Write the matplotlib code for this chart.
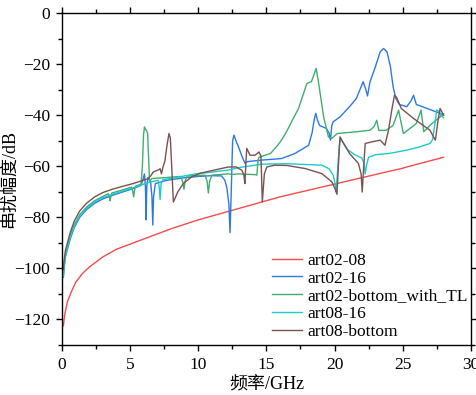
import matplotlib
matplotlib.use("Agg")
import matplotlib.pyplot as plt
from matplotlib.ticker import MultipleLocator

plt.rcParams['font.family'] = ['Liberation Serif', 'Noto Sans CJK SC']
plt.rcParams['axes.unicode_minus'] = True

# series (frequency in GHz, crosstalk in dB)
red_f = [0.1, 0.2, 0.4, 0.7, 1.0, 1.5, 2.0, 3.0, 4.0, 6.0, 8.0, 10.0, 12.0, 14.0,
         16.0, 18.0, 20.0, 22.0, 24.0, 25.0, 25.1, 26.0, 28.0]
red_db = [-122.5, -118, -113, -109, -105.5, -102, -99.5, -95.5, -92.5, -88.5, -84.5,
          -81, -78, -75, -72, -69.5, -67, -64.5, -62, -60.8, -60.6, -59.3, -56.5]

blue_f = [0.1, 0.15, 0.25, 0.4, 0.6, 0.9, 1.3, 1.8, 2.4, 3.0, 3.7, 4.5, 5.2, 5.8, 5.95,
          6.05, 6.12, 6.17, 6.22, 6.3, 6.5, 6.6, 6.66, 6.72, 6.85, 7.7, 9.0, 10.0, 11.0,
          11.7, 11.95, 12.1, 12.25, 12.33, 12.42, 12.52, 12.62, 12.8, 12.95, 13.2, 13.44,
          13.6, 14.66, 16.1, 17.1, 18.1, 18.35, 18.5, 18.62, 18.75, 18.9, 19.4, 19.6, 19.7,
          19.8, 19.9, 20.4, 21.1, 21.6, 22.1, 22.3, 22.42, 22.6, 23.0, 23.35, 23.6, 23.85,
          24.1, 24.3, 24.5, 24.75, 25.3, 25.6, 25.8, 26.0, 26.8, 27.75, 28.0]
blue_db = [-103.5, -100, -95.5, -92.5, -88.5, -84, -80, -77, -74.5, -72.8, -71.4, -70,
           -68.8, -67.5, -65, -63, -68, -81, -68, -64.5, -66, -72, -83, -72, -66.8, -65.5,
           -64.5, -64, -63.7, -63.8, -65.5, -68.5, -75, -86, -70, -50, -47.8, -50.5, -52.4,
           -56, -59, -58.2, -57.6, -57, -55, -51.8, -47, -42, -39.3, -42, -44, -45.2, -47,
           -49.8, -44, -42.6, -40.7, -36.7, -33.5, -26.9, -30, -32.5, -27, -21, -15.2,
           -13.9, -15.2, -21, -28.9, -33.5, -35.8, -36.7, -34.5, -32.2, -35.8, -37.4,
           -39.3, -40]

green_f = [0.1, 0.15, 0.25, 0.4, 0.6, 0.9, 1.3, 1.8, 2.4, 3.0, 3.4, 3.48, 3.53, 3.58,
           3.65, 4.5, 5.1, 5.2, 5.26, 5.32, 5.4, 5.8, 5.9, 5.98, 6.05, 6.12, 6.2, 6.28,
           6.35, 6.42, 6.6, 7.5, 8.7, 8.85, 8.95, 9.05, 9.2, 10.5, 10.65, 10.74, 10.83,
           11.0, 12.2, 12.5, 13.0, 14.2, 14.3, 14.38, 14.45, 15.3, 15.8, 16.1, 16.4, 16.6,
           16.9, 17.35, 17.97, 18.3, 18.5, 18.65, 18.8, 19.2, 19.55, 19.8, 20.2, 21.6,
           22.6, 22.9, 23.1, 23.25, 23.8, 24.3, 24.7, 24.85, 25.05, 26.0, 26.35, 26.55,
           27.1, 27.75, 28.0]
green_db = [-102.5, -99, -94.5, -91.3, -87.3, -83, -79, -76, -73.5, -71.8, -70.8, -72,
            -73.5, -72, -70.5, -69.2, -68.2, -70, -72, -69.5, -67.8, -67, -60, -48, -44.6,
            -45.5, -46, -47, -56, -66, -64.8, -64.5, -64, -66, -69, -65.5, -63.8, -63.5,
            -66, -70.5, -66, -63.5, -63, -63.2, -63, -63.3, -63.5, -58, -56.5, -55, -52,
            -49.8, -47.2, -45.2, -42, -37.5, -27.6, -26.9, -24, -21.7, -26.3, -40.7, -48.5,
            -49.1, -47.2, -46.5, -45.9, -44.5, -42, -46, -45.9, -44, -38, -42, -47.2,
            -43.3, -38, -46.5, -43.5, -40.7, -39.5]

cyan_f = [0.1, 0.15, 0.25, 0.4, 0.6, 0.9, 1.3, 1.8, 2.4, 3.0, 3.7, 4.5, 5.2, 5.8, 6.5,
          7.05, 7.13, 7.2, 7.27, 7.4, 8.0, 9.8, 11.0, 12.2, 13.0, 14.66, 16.5, 19.07,
          19.6, 19.9, 20.05, 20.12, 20.22, 20.35, 20.45, 20.6, 21.0, 21.5, 22.0, 22.15,
          22.25, 22.35, 22.5, 23.0, 24.0, 25.3, 26.2, 27.0, 27.2, 27.35, 27.5, 27.65,
          27.8, 28.0]
cyan_db = [-103, -99.5, -95, -92, -88, -83.5, -79.5, -76.5, -74, -72.3, -71, -69.7,
           -68.5, -67.3, -66.2, -65.5, -68, -73, -67, -65.3, -64.8, -63, -62.3, -61.5,
           -60.5, -59.2, -59, -59.6, -61, -63.5, -67, -70, -62, -52, -49, -50.5, -53.7,
           -55.5, -56.8, -58.5, -63, -59.5, -56.5, -55.5, -55, -53.7, -52.5, -51.1,
           -49.5, -44, -38, -38.5, -40, -41]

brown_f = [0.1, 0.15, 0.25, 0.4, 0.6, 0.9, 1.3, 1.8, 2.4, 3.0, 3.7, 4.5, 5.2, 5.8, 6.34,
           6.55, 6.7, 7.0, 7.2, 7.3, 7.4, 7.55, 7.7, 7.85, 7.95, 8.05, 8.17, 8.3, 8.5, 8.9,
           9.5, 10.1, 11.1, 12.2, 12.8, 13.2, 13.35, 13.42, 13.5, 13.56, 13.8, 14.17,
           14.45, 14.6, 14.7, 14.85, 15.03, 15.6, 16.5, 17.84, 19.07, 19.8, 20.05, 20.18,
           20.28, 20.4, 20.6, 21.1, 21.75, 21.95, 22.03, 22.12, 22.25, 22.7, 23.35, 23.7,
           23.96, 24.2, 24.4, 24.55, 24.9, 25.8, 27.0, 27.4, 27.6, 27.75, 28.0]
brown_db = [-100.5, -97, -93, -90, -86, -81.5, -77.5, -74.5, -72, -70.3, -69, -67.8,
            -66.8, -65.8, -64.8, -63.5, -62.2, -61.6, -61, -63, -60.5, -58, -52, -47.2,
            -49, -60, -74, -72.5, -70, -66.8, -64.2, -62.8, -61.6, -60.3, -60.3, -61.6,
            -63.5, -66.8, -58, -53, -55.7, -55.7, -54.4, -56, -74, -63, -60.3, -59.6,
            -59.7, -60.9, -62.9, -66.1, -69, -71, -60, -48.5, -50.5, -55, -58.9, -63,
            -70.1, -62, -51.1, -50.5, -49.8, -51.8, -45.9, -38, -32.2, -33, -37.4, -41.3,
            -45.9, -49.8, -42, -37.4, -40]

labels = ['art02-08', 'art02-16', 'art02-bottom_with_TL', 'art08-16', 'art08-bottom']
colors = ['#f24c4c', '#2b79e3', '#41ad6e', '#1ecaca', '#7a5250']

fig = plt.figure(figsize=(4.77, 3.95), dpi=100)
ax = fig.add_axes([0.130, 0.1266, 0.857, 0.8405])

series = [(red_f, red_db), (blue_f, blue_db), (green_f, green_db),
          (cyan_f, cyan_db), (brown_f, brown_db)]
for (f, db), lab, c in zip(series, labels, colors):
    ax.plot(f, db, color=c, lw=1.0, label=lab)

ax.set_xlim(0, 30)
ax.set_ylim(-130, 0)
ax.xaxis.set_major_locator(MultipleLocator(5))
ax.xaxis.set_minor_locator(MultipleLocator(2.5))
ax.yaxis.set_major_locator(MultipleLocator(20))
ax.yaxis.set_minor_locator(MultipleLocator(10))
ax.tick_params(which='both', direction='out', top=True, right=True,
               labelsize=12.5, width=1.0)
ax.tick_params(which='major', length=4.5, pad=4)
ax.tick_params(which='minor', length=3)
for s in ax.spines.values():
    s.set_linewidth(1.0)

ax.set_xlabel('频率/GHz', fontsize=13, labelpad=3)
ax.set_ylabel('串扰幅度/dB', fontsize=13)
ax.yaxis.set_label_coords(-0.108, 0.5)

ax.legend(loc='upper left', bbox_to_anchor=(0.513, 0.278), frameon=False,
          fontsize=12.5, borderpad=0, borderaxespad=0, handlelength=1.72,
          handletextpad=0.35, labelspacing=0.09)

fig.savefig('out.png', dpi=100)
